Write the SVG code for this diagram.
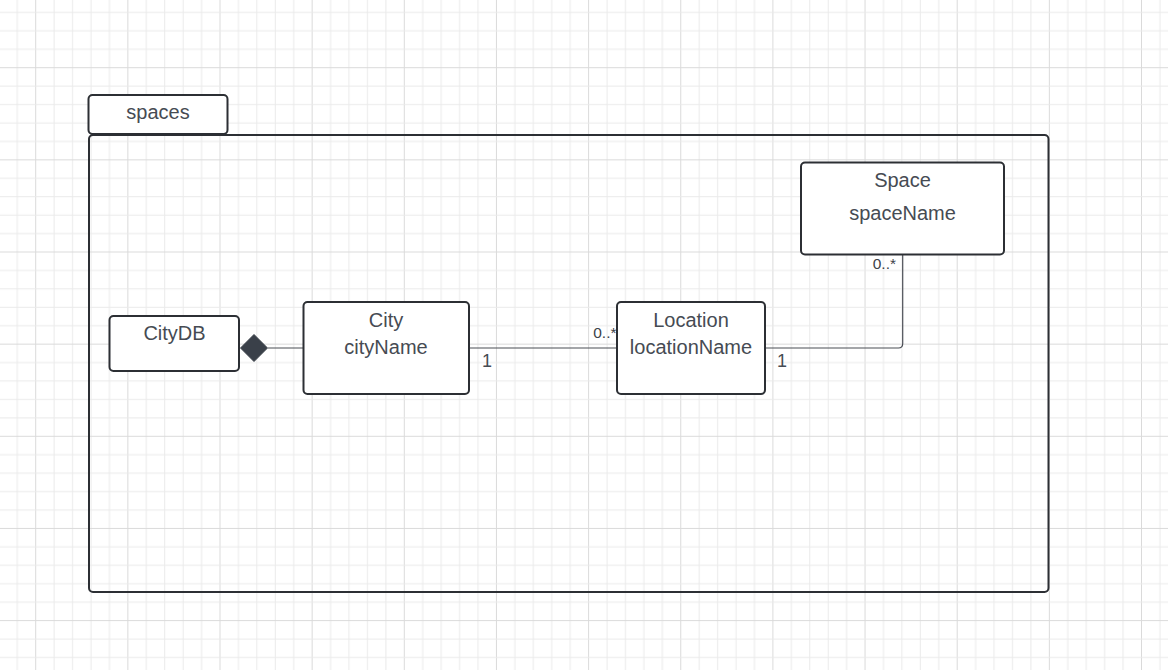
<svg xmlns="http://www.w3.org/2000/svg" width="1168" height="670" viewBox="0 0 1168 670">
<defs>
<pattern id="grid" patternUnits="userSpaceOnUse" x="35.2" y="67.2" width="92.15" height="92.15">
<rect x="0" y="0" width="1" height="92.15" fill="#dadada"/>
<rect x="18.43" y="0" width="1" height="92.15" fill="#eaeaea"/>
<rect x="36.86" y="0" width="1" height="92.15" fill="#eaeaea"/>
<rect x="55.29" y="0" width="1" height="92.15" fill="#eaeaea"/>
<rect x="73.72" y="0" width="1" height="92.15" fill="#eaeaea"/>
<rect x="0" y="0" width="92.15" height="1" fill="#dadada"/>
<rect x="0" y="18.43" width="92.15" height="1" fill="#eaeaea"/>
<rect x="0" y="36.86" width="92.15" height="1" fill="#eaeaea"/>
<rect x="0" y="55.29" width="92.15" height="1" fill="#eaeaea"/>
<rect x="0" y="73.72" width="92.15" height="1" fill="#eaeaea"/>
</pattern>
<style>
.box{fill:#ffffff;stroke:#2c2f34;stroke-width:2}
.frame{fill:none;stroke:#2c2f34;stroke-width:2}
.t{font-family:"Liberation Sans",Arial,sans-serif;font-size:20px;fill:#464b53;text-anchor:middle}
.m{font-family:"Liberation Sans",Arial,sans-serif;font-size:18px;fill:#464b53}
.s{font-family:"Liberation Sans",Arial,sans-serif;font-size:15.5px;fill:#3d4249;text-anchor:end}
.c{fill:none;stroke:#4a4e55;stroke-width:1.2}
</style>
</defs>
<rect width="1168" height="670" fill="#ffffff"/>
<rect width="1168" height="670" fill="url(#grid)"/>
<g id="package-spaces">
<rect class="box" x="88.5" y="95" width="139" height="39" rx="4"/>
<text class="t" x="158" y="119">spaces</text>
<rect class="frame" x="89" y="135" width="959.5" height="457" rx="4"/>
</g>
<g id="connectors">
<path class="c" d="M268 348 H303.5"/>
<polygon points="240.5,348 254,334.5 267.5,348 254,361.5" fill="#3a4049" stroke="#3a4049" stroke-width="1"/>
<path class="c" d="M469 348 H617"/>
<path class="c" d="M765 348 H898.5 Q902.7 348 902.7 343.8 V254.5"/>
<text class="m" x="482" y="366.5">1</text>
<text class="s" x="616.5" y="338">0..*</text>
<text class="m" x="777" y="366.5">1</text>
<text class="s" x="896" y="269">0..*</text>
</g>
<g id="node-citydb">
<rect class="box" x="109.5" y="316" width="129.5" height="55" rx="4"/>
<text class="t" x="174.5" y="340">CityDB</text>
</g>
<g id="node-city">
<rect class="box" x="303.5" y="302" width="165.5" height="92" rx="4"/>
<text class="t" x="386" y="327">City</text>
<text class="t" x="386" y="354">cityName</text>
</g>
<g id="node-location">
<rect class="box" x="617" y="302" width="148" height="92" rx="4"/>
<text class="t" x="691" y="327">Location</text>
<text class="t" x="691" y="354">locationName</text>
</g>
<g id="node-space">
<rect class="box" x="801" y="162.5" width="203" height="92" rx="4"/>
<text class="t" x="902.5" y="186.5">Space</text>
<text class="t" x="902.5" y="219.5">spaceName</text>
</g>
</svg>
